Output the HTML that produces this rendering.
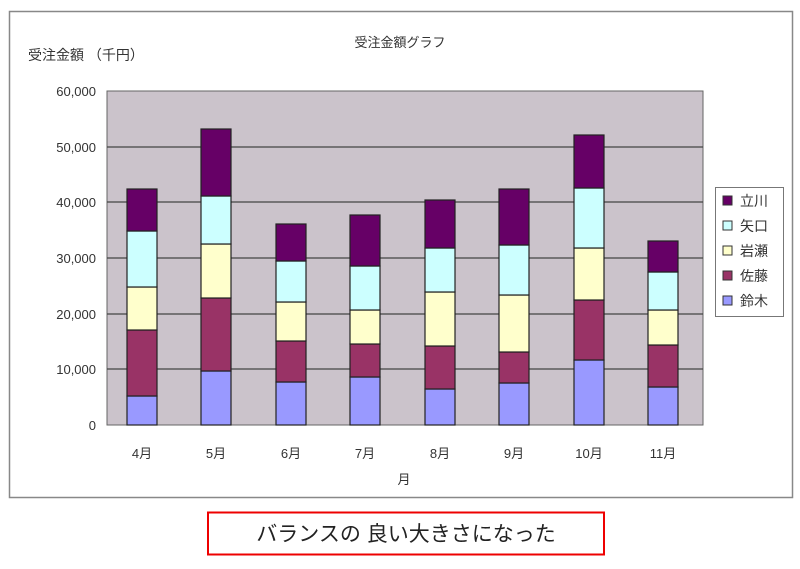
<!DOCTYPE html>
<html><head><meta charset="utf-8"><style>
body{margin:0;background:#fff;}
svg text{font-family:"Liberation Sans","Noto Sans CJK JP",sans-serif;fill:#333;}
</style></head><body>
<svg width="800" height="564" viewBox="0 0 800 564" xmlns="http://www.w3.org/2000/svg">
<rect x="9.5" y="11.5" width="783" height="486" fill="#fff" stroke="#888" stroke-width="1.5"/>
<text x="400" y="47" font-size="13" text-anchor="middle">受注金額グラフ</text>
<text x="28" y="60" font-size="14">受注金額 （千円）</text>
<rect x="107" y="91" width="596" height="334" fill="#cbc3cb" stroke="#666" stroke-width="1"/>
<g stroke="#444" stroke-width="1.3">
<line x1="107" x2="703" y1="147" y2="147"/><line x1="107" x2="703" y1="202" y2="202"/>
<line x1="107" x2="703" y1="258" y2="258"/><line x1="107" x2="703" y1="314" y2="314"/>
<line x1="107" x2="703" y1="369" y2="369"/>
</g>
<g font-size="13" text-anchor="end">
<text x="96" y="96">60,000</text><text x="96" y="152">50,000</text><text x="96" y="207">40,000</text>
<text x="96" y="263">30,000</text><text x="96" y="319">20,000</text><text x="96" y="374">10,000</text>
<text x="96" y="430">0</text>
</g>
<g stroke="#222" stroke-width="1.2" id="bars">
<!-- 4 -->
<rect x="127" y="396" width="30" height="29" fill="#9999ff"/><rect x="127" y="330" width="30" height="66" fill="#993366"/><rect x="127" y="287" width="30" height="43" fill="#ffffcc"/><rect x="127" y="231" width="30" height="56" fill="#ccffff"/><rect x="127" y="189" width="30" height="42" fill="#660066"/>
<!-- 5 -->
<rect x="201" y="371" width="30" height="54" fill="#9999ff"/><rect x="201" y="298" width="30" height="73" fill="#993366"/><rect x="201" y="244" width="30" height="54" fill="#ffffcc"/><rect x="201" y="196" width="30" height="48" fill="#ccffff"/><rect x="201" y="129" width="30" height="67" fill="#660066"/>
<!-- 6 -->
<rect x="276" y="382" width="30" height="43" fill="#9999ff"/><rect x="276" y="341" width="30" height="41" fill="#993366"/><rect x="276" y="302" width="30" height="39" fill="#ffffcc"/><rect x="276" y="261" width="30" height="41" fill="#ccffff"/><rect x="276" y="224" width="30" height="37" fill="#660066"/>
<!-- 7 -->
<rect x="350" y="377" width="30" height="48" fill="#9999ff"/><rect x="350" y="344" width="30" height="33" fill="#993366"/><rect x="350" y="310" width="30" height="34" fill="#ffffcc"/><rect x="350" y="266" width="30" height="44" fill="#ccffff"/><rect x="350" y="215" width="30" height="51" fill="#660066"/>
<!-- 8 -->
<rect x="425" y="389" width="30" height="36" fill="#9999ff"/><rect x="425" y="346" width="30" height="43" fill="#993366"/><rect x="425" y="292" width="30" height="54" fill="#ffffcc"/><rect x="425" y="248" width="30" height="44" fill="#ccffff"/><rect x="425" y="200" width="30" height="48" fill="#660066"/>
<!-- 9 -->
<rect x="499" y="383" width="30" height="42" fill="#9999ff"/><rect x="499" y="352" width="30" height="31" fill="#993366"/><rect x="499" y="295" width="30" height="57" fill="#ffffcc"/><rect x="499" y="245" width="30" height="50" fill="#ccffff"/><rect x="499" y="189" width="30" height="56" fill="#660066"/>
<!-- 10 -->
<rect x="574" y="360" width="30" height="65" fill="#9999ff"/><rect x="574" y="300" width="30" height="60" fill="#993366"/><rect x="574" y="248" width="30" height="52" fill="#ffffcc"/><rect x="574" y="188" width="30" height="60" fill="#ccffff"/><rect x="574" y="135" width="30" height="53" fill="#660066"/>
<!-- 11 -->
<rect x="648" y="387" width="30" height="38" fill="#9999ff"/><rect x="648" y="345" width="30" height="42" fill="#993366"/><rect x="648" y="310" width="30" height="35" fill="#ffffcc"/><rect x="648" y="272" width="30" height="38" fill="#ccffff"/><rect x="648" y="241" width="30" height="31" fill="#660066"/>
</g>
<g font-size="13" text-anchor="middle">
<text x="142" y="458">4月</text><text x="216" y="458">5月</text><text x="291" y="458">6月</text><text x="365" y="458">7月</text>
<text x="440" y="458">8月</text><text x="514" y="458">9月</text><text x="589" y="458">10月</text><text x="663" y="458">11月</text>
<text x="404" y="484">月</text>
</g>
<rect x="715.5" y="187.5" width="68" height="129" fill="#fff" stroke="#777"/>
<g stroke="#333" stroke-width="1">
<rect x="723" y="196" width="9" height="9" fill="#660066"/>
<rect x="723" y="221" width="9" height="9" fill="#ccffff"/>
<rect x="723" y="246" width="9" height="9" fill="#ffffcc"/>
<rect x="723" y="271" width="9" height="9" fill="#993366"/>
<rect x="723" y="296" width="9" height="9" fill="#9999ff"/>
</g>
<g font-size="14">
<text x="740" y="206">立川</text><text x="740" y="231">矢口</text><text x="740" y="256">岩瀬</text>
<text x="740" y="281">佐藤</text><text x="740" y="306">鈴木</text>
</g>
<rect x="208" y="512.5" width="396" height="42" fill="#fff" stroke="#e00" stroke-width="2"/>
<text x="406" y="541" font-size="21" text-anchor="middle" style="fill:#222">バランスの 良い大きさになった</text>
</svg>
</body></html>
